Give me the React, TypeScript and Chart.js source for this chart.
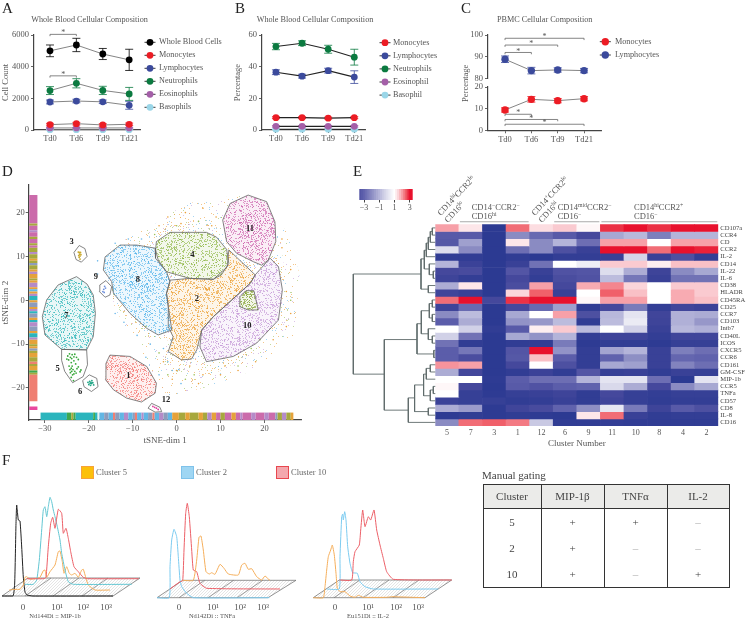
import { useEffect, useRef } from 'react';
import { Chart, registerables } from 'chart.js';

Chart.register(...registerables);

const SERIF = '"Liberation Serif"';
const INK = '#555';

// ---- Panels A, B, C ----
const timeLabels = ['Td0', 'Td6', 'Td9', 'Td21'];
const seriesColors: Record<string, string> = {
  'Whole Blood Cells': '#000000', Monocytes: '#ec1c24', Lymphocytes: '#3b4a9c', Neutrophils: '#0b7a40',
  Neutrophil: '#0b7a40', Eosinophils: '#a45fa8', Eosinophil: '#a45fa8', Basophils: '#9ad6e8', Basophil: '#9ad6e8',
};
const aNames = ['Whole Blood Cells', 'Monocytes', 'Lymphocytes', 'Neutrophils', 'Eosinophils', 'Basophils'];
const aValues = [[5000, 5370, 4800, 4430], [340, 400, 320, 360], [1770, 1830, 1780, 1560], [2490, 2950, 2500, 2280], [130, 130, 130, 130], [20, 20, 20, 20]];
const aErrors = [[370, 420, 350, 670], [80, 80, 80, 80], [120, 110, 110, 250], [250, 290, 260, 410], [30, 30, 30, 30], [15, 15, 15, 15]];
const aBrackets = [{ from: 0, to: 1, y: 6040 }, { from: 0, to: 1, y: 3420 }];
const bNames = ['Monocytes', 'Lymphocytes', 'Neutrophils', 'Eosinophil', 'Basophil'];
const bValues = [[7.8, 7.8, 7.5, 7.8], [36.5, 34, 37.5, 33.4], [52.7, 54.8, 51, 46], [2.3, 2.3, 2.3, 2.3], [0.5, 0.5, 0.5, 0.5]];
const bErrors = [[0.6, 0.6, 0.6, 0.6], [1.5, 1.2, 1.5, 4], [2, 1.5, 2.5, 5], [0.5, 0.5, 0.5, 0.5], [0.2, 0.2, 0.2, 0.2]];
const cLymph = [88.9, 83.7, 84, 83.7];
const cLymphErr = [1.5, 1.5, 1, 1];
const cMono = [9.4, 14.3, 13.7, 14.6];
const cMonoErr = [1, 1.3, 1, 1];
const cTopBrackets = [{ from: 0, to: 3, y: 98.5 }, { from: 0, to: 2, y: 95.4 }, { from: 0, to: 1, y: 92 }];
const cLowBrackets = [{ from: 0, to: 1, y: 7.4 }, { from: 0, to: 2, y: 5 }, { from: 0, to: 3, y: 2.8 }];

// ---- Panel D ----
const dTicksX = [-30, -20, -10, 0, 10, 20];
const dTicksY = [-20, -10, 0, 10, 20];
const sparseClusterIds = ['3', '9', '12', '6', '5'];
const clusterOutlines: { id: string; color: string; label: number[]; pts: number[][] }[] = [
  { id: '10', color: '#c08fd4', label: [16.1, -5.7], pts: [[17.9, 5.8], [21.3, 9.6], [23.2, 7.7], [24.1, 2.4], [23.2, -4.5], [18.2, -9.8], [12.9, -12.8], [6.8, -14], [5.3, -10.6], [5.7, -6.8], [8.4, -3.7], [16.8, 3.9]] },
  { id: '2', color: '#eb9a26', label: [4.6, 0.4], pts: [[-1.5, 4.6], [3, 5], [8.4, 4.8], [11.5, 7.6], [11.9, 11.5], [17.9, 5.8], [16.8, 3.9], [8.4, -3.7], [5.7, -6.8], [4.6, -11.3], [3.4, -13.4], [1.1, -13.6], [-1.9, -11.7], [-0.8, -8.3], [-1.9, -6], [-1.9, -1.4], [-2.3, 1.6]] },
  { id: '8', color: '#4db0ea', label: [-8.8, 4.6], pts: [[-12.9, 12.6], [-9.1, 12.6], [-4.9, 11.9], [-4.8, 9.6], [-2.3, 6.5], [-1.5, 4.3], [-2.3, 1.6], [-1.9, -1.4], [-1.1, -6.8], [-4.2, -7.9], [-6.8, -6.4], [-10.6, -3], [-14.4, 1.6], [-14.8, 4.3], [-16.7, 6.9], [-16.3, 9.9]] },
  { id: '4', color: '#86b036', label: [3.6, 10.4], pts: [[-1.5, 15.5], [6.8, 15.5], [9.1, 14.4], [11.4, 11.6], [11.9, 8.4], [10.2, 5.8], [8.4, 4.8], [3, 5], [-2.3, 6.5], [-4.2, 9.2], [-4.8, 11.5], [-4.6, 13.4]] },
  { id: '11', color: '#ca58a8', label: [16.7, 16.3], pts: [[16.3, 24], [20.5, 22.5], [22.4, 17.9], [22.6, 13.4], [20.9, 9.2], [19.4, 8], [17.5, 8.8], [13.7, 10.7], [11.4, 13.4], [10.5, 18.3], [12.2, 22.1]] },
  { id: '', color: '#7f9f2a', label: [], pts: [[15.8, 2.2], [17.6, 2.2], [18.6, -2.2], [16.3, -2.2], [14.3, -1.4], [14.4, 0.8]] },
  { id: '7', color: '#25b2b5', label: [-25.1, -3.6], pts: [[-22.8, 5.4], [-20.4, 3.7], [-19, 1.2], [-18.5, -3], [-19, -8.3], [-20.5, -11.3], [-26.2, -11.2], [-30, -7.9], [-30.6, -3.7], [-29.6, 0.1], [-27, 3.5]] },
  { id: '5', color: '#38a83a', label: [-27.1, -15.6], pts: [[-26.2, -11.2], [-20.5, -11.3], [-20.3, -14.7], [-21.3, -17.4], [-23.7, -18.8], [-25.5, -16.2], [-26.2, -13.7]] },
  { id: '6', color: '#1fa585', label: [-22, -20.8], pts: [[-19.9, -17], [-18.2, -17.8], [-17.9, -19.7], [-19.4, -20.8], [-21.1, -19.7], [-21.4, -18.3]] },
  { id: '1', color: '#f26a66', label: [-11, -17.2], pts: [[-15.2, -12.5], [-10.6, -12.8], [-6.8, -15.1], [-4.6, -18.9], [-4.9, -21.2], [-8, -23.2], [-11.4, -22.3], [-14.4, -20.4], [-16.2, -18.1], [-16.1, -14.4]] },
  { id: '3', color: '#c9a92c', label: [-23.9, 13.3], pts: [[-22.2, 12.5], [-20.9, 11.8], [-20.4, 10], [-21.7, 8.7], [-22.9, 9.3], [-23.4, 10.9]] },
  { id: '9', color: '#6e8fdc', label: [-18.4, 5.3], pts: [[-16.1, 4.5], [-14.8, 3.1], [-15.2, 1.2], [-16.3, 0.7], [-17.6, 2], [-17.5, 3.5]] },
  { id: '12', color: '#e0409f', label: [-2.4, -22.7], pts: [[-5.7, -23.5], [-3.8, -24.4], [-3.4, -25.4], [-4.9, -25.5], [-6.5, -24.6]] },
];
const denseCores: { color: string; pts: number[][] }[] = [
  { color: '#3aa6e6', pts: [[-15, 6.5], [-9, 5.5], [-6, 3], [-9, 3], [-14, 4]] },
  { color: '#1fa8ac', pts: [[-24.5, 4], [-21.5, 4], [-21, 1.5], [-24, 1.5]] },
  { color: '#c44ba0', pts: [[15, 20], [20, 19], [21, 14], [17, 13], [14, 16]] },
  { color: '#ee5a58', pts: [[-14, -14.5], [-10, -15], [-7, -19], [-9, -22], [-13, -18]] },
];
// core marks of the tiny clusters
const tinyMarks: { color: string; pts: number[][] }[] = [
  { color: '#c9a92c', pts: [[-22.4, 11], [-22.1, 10.5], [-22.2, 9.8], [-21.9, 10.9], [-22, 9.4], [-22.3, 10.2], [-21.8, 10.4], [-22.2, 10.9], [-22, 10.1]] },
  { color: '#6e8fdc', pts: [[-16.4, 3.2], [-16.6, 2.5], [-16.2, 2.8], [-16.8, 2], [-16.5, 1.8]] },
  { color: '#e0409f', pts: [[-5.4, -24.2], [-5, -24.4], [-4.6, -24.6], [-4.2, -24.9]] },
  { color: '#1fa585', pts: [[-19.8, -18.5], [-19.4, -19], [-19.6, -19.4], [-19.1, -18.8], [-20, -19.2], [-19.3, -18.3], [-19.7, -18.9], [-20.2, -18.7], [-18.9, -19.3], [-19.5, -18.7]] },
  { color: '#38a83a', pts: [[-24.8, -12.7], [-24.2, -13], [-23.8, -12.4], [-23.4, -12.9], [-24.5, -15], [-24, -15.5], [-23.6, -15.8], [-23.2, -16.2], [-22.7, -15.6], [-24.2, -16.5], [-23.7, -17], [-22, -16.3], [-23, -14.5], [-24, -14.2], [-22.4, -13.5], [-24.4, -12.2], [-23.9, -16.2], [-23.4, -13.8], [-25, -13.4], [-24.6, -13.6], [-23.9, -13.3], [-24.3, -15.8], [-23.8, -15], [-23.4, -16.8], [-22.9, -16.6], [-22.4, -15.2], [-21.8, -15.9], [-23.2, -12.3], [-22.8, -13], [-24, -17.6], [-23.5, -18.3]] },
];
const haloRegion = [[-10, 14], [2, 22], [14, 24], [25, 16], [28, 6], [27, -8], [20, -15], [8, -19.5], [-2, -22], [-7, -14], [-14, -2], [-17, 10]];
const innerHalo = [[-6, 17], [8, 18.5], [12, 12], [24, 11], [26, -4], [18, -12], [8, -17], [-3, -16], [-2, -9], [-6, -9], [-12, -4], [-16, 3], [-15, 12]];
const sparseOrange = [[-2, 19], [2, 20], [6, 21], [9, 19], [8, 17], [-4, 17], [1, 17.5], [24, 12], [26, 7], [25, 2], [26, -3], [-3, -14], [6, -17], [10, -17], [14, -16], [18, -14], [22, -9], [25, -6], [3, -15], [0, -16], [-1, -18], [5, -19], [11, -15], [24, 14]];
const sparseBlue = [[-14, 13], [-11, 14], [-8, 14], [-18, 9], [-18, 6], [-14, -3], [-12, -5], [-9, -8], [-6, -10], [-3, -11], [-1, -9], [0, -16], [0.5, -15.8], [-1, -16], [-4, -17], [1, -19], [-7, -13], [-2, -14]];
const sparseGreen = [[-4, -12], [2, -18], [4, -17], [14, -15], [17, -11], [19, -9], [-7, -6], [-5, 15], [0, 17], [5, 18], [26, 0], [-2, -17]];
const rugXStops = [-31, -25, -24, -23.5, -23, -19, -18.6, -18, -17.6, -16.5, -15.5, -14.5, -14, -13, -12, -11, -10, -9.5, -9, -8, -7.5, -6.5, -5.5, -5, -4, -3, -2, -1, 0.5, 2, 3, 5, 6, 7, 8, 9, 10, 11, 12.5, 13.5, 14.5, 15, 17, 18, 20, 21, 22.5, 23, 24, 25, 26, 26.6];
const rugXColors = 'T G L G T G T W B K B S K B P B K S B P B K S B P K B O L O L O L P O M L M O M P M P M P M K L P L O O'.split(' ');
const rugYStops = [24, 17.5, 17, 16, 15.5, 14.5, 14, 13, 12.5, 12, 11, 10.5, 9.5, 9, 8.5, 8, 7, 6.5, 6, 5, 4.5, 4, 3, 2.5, 2, 1.5, 1, 0, -0.5, -1.5, -2, -2.5, -3, -4, -4.5, -5, -6, -7, -7.5, -8.5, -9, -10, -10.5, -11, -11.5, -12, -13, -14, -14.5, -15, -16, -16.5, -17, -23, -24.2, -25];
const rugYColors = 'M L M P M L M L M L P L O L K L O P O L O P O B O P T O K O P T K O T P K O T P O L O K L O L S L O G L S N H H'.split(' ');
const rugPalette: Record<string, string> = { T: '#2bb5bd', G: '#3fa84e', B: '#62b6e4', S: '#ef7f72', P: '#b48bc8', O: '#e5a23a', L: '#a7a83e', M: '#cb6bab', K: '#8d9cbc', W: '#e4f2f2', N: 'rgba(0,0,0,0)', H: '#e9489f' };

// ---- Panel E ----
const heatColumns = ['5', '7', '3', '1', '12', '6', '9', '11', '10', '8', '4', '2'];
const heatRows = ['CD107a', 'CCR4', 'CD', 'CCR2', 'IL-2', 'CD14', 'IL-22', 'IL-6', 'CD38', 'HLADR', 'CD45RA', 'CD25', 'CCR7', 'CD103', 'Intb7', 'CD40L', 'ICOS', 'CXCR5', 'CCR6', 'CD161', 'GM-CSF', 'MIP-1b', 'CCR5', 'TNFa', 'CD57', 'CD8', 'IL-8', 'CD16'];
const heatValues = [
  [2.0, 1.3, -5, 2.4, 1.4, 1.6, 1.1, 2.8, 3, 2.8, 3, 3],
  [-3.3, -3.3, -5, -2, -2.8, -3.3, -4, -1.3, -0.9, -2.3, -1, -1],
  [-3.4, -1.5, -5, 1.3, -2, -1, -2.7, 2, 2, 1, 2, 2],
  [0, -2, -5, -2.7, -2, -3.7, -4.5, 3, 3, 2.4, 3, 2.9],
  [-4.8, -4.8, -5, -4.8, -5, -4.7, -4.7, -4.5, -0.2, -4.5, -3.7, -4.7],
  [-1, -4.4, -5, -4.5, -2.6, 1, 0.5, 1.6, 1.6, 1.2, 1.7, 1.7],
  [-4, -3.9, -5, -3.5, -4.5, -3.6, -3.5, 0, -1.2, -4.3, -2, -1.3],
  [-4.3, -4.7, -5, -4, -4.7, -3.8, -3.6, -0.8, -2.5, -4.5, -2.6, -2.6],
  [-1.2, 1.3, -5, -3.8, 2, -4, 1.9, 2.2, 1.5, 1, 1.6, 1.6],
  [-4.2, -4.5, -5, 1.5, 2.5, -4.5, 1, 2.5, 1.7, 1, 1.9, 1.6],
  [2.4, 3, -4, 2.8, 3, 3, 1.1, 2, 2, 1, 1.9, 1.7],
  [-4.3, -2.8, -5, -4, -2.8, -1.5, -4.8, -4, -2.4, -4.7, -4.2, -4.4],
  [-2, -0.8, -5, -1.3, 1, 2, -3.7, -0.9, 0.2, -4.2, -1.1, -1.2],
  [-3.2, -1.2, -5, -1.8, -1.7, -0.8, -4.8, -0.8, 0.4, -4.3, -1.1, -1.7],
  [1, -0.3, -4.8, -3.3, 1.2, 1.6, -0.8, 1, -0.3, -4.5, -0.9, -1.1],
  [-0.3, -2.6, -5, -1.3, -1.8, -1, -4.7, -4.3, -4.3, -4.7, -4.2, -4.2],
  [-2.6, -4.8, -5, -4.8, -4.8, -2.4, -4.9, -4.8, -4.8, -4.9, -4.6, -4.6],
  [-3.2, -2.5, -5, -3.5, 3, -1.8, -4.7, -1.4, -1, -4.5, -2.3, -2.7],
  [-3.2, -3.8, -5, -3.4, 1.7, -3.2, -4.7, -3, -1.9, -4.5, -2.9, -3],
  [2.1, 2, -5, -4, 1, -3.7, -4.7, -1.3, -1.5, -4.5, -2.2, -2.7],
  [-1.2, -4.1, -5, -4.8, -4.4, -4.8, -3.5, -4.6, -4.5, -4.8, -4.5, -4.6],
  [1, 1, -4.9, -3.2, -2.7, -2.7, -1, 0.2, 0.2, -2.7, -5, 0.2],
  [1.1, -4, -5, -3.3, -3.6, -3.2, -3, -0.1, -1.2, -4, -2, -1.3],
  [1, -4.6, -4.9, -4.6, -4.5, -4.3, -4.8, -4, -4.6, -4.7, -4.6, -4.6],
  [-4.4, -4.6, -4.6, -4.8, -4.7, -4.5, -4.8, -4.2, -4.6, -4.8, -4.7, -4.7],
  [-1.2, -1.6, -4.9, -4.2, -3.9, -3, -1.9, 0.3, -2.4, -4.3, -3.3, -3.7],
  [-4.9, -4.8, -4.9, -4.8, -4.9, -5, 1.3, 2.4, -4.5, -4.8, -4.7, -4.7],
  [-2, 2.4, 2.5, 2.3, -0.5, -4.8, -4.8, -4.7, -4.8, -4.8, -4.8, -4.8],
];
const heatStops: [number, number[]][] = [
  [-5, [44, 58, 146]], [-4, [69, 72, 156]], [-3, [96, 98, 173]], [-2, [138, 139, 194]], [-1, [180, 180, 217]], [0, [221, 221, 237]],
  [1, [255, 255, 255]], [1.5, [251, 213, 218]], [2, [247, 160, 168]], [2.5, [240, 96, 106]], [3, [232, 17, 45]],
];
const colorbarSteps = [-3.5, -3.25, -3, -2.75, -2.5, -2.25, -2, -1.75, -1.5, -1.25, -1, -0.75, -0.5, -0.25, 0, 0.25, 0.5, 0.75, 1, 1.25, 1.5, 1.75, 2, 2.25, 2.5, 2.75, 3, 3.25];
const colorbarTicks = [-3, -1, 1, 3];
const groupSpans = [[1, 3], [5, 6], [7, 11]];
// [height, row1, childHeight1, row2, childHeight2]
const dendroLinks = [
  [3, 0, 0, 1, 0], [5, 0.5, 3, 2, 0], [7, 1.3, 5, 3, 0], [9, 2.1, 7, 4, 0], [2, 6, 0, 7, 0], [6, 5, 0, 6.5, 2], [11, 3.1, 9, 5.7, 6], [7, 8, 0, 9, 0], [14.3, 4.3, 11, 8.5, 7],
  [3, 10, 0, 11, 0], [3, 12, 0, 13, 0], [6, 10.5, 3, 12.5, 3], [3, 15, 0, 16, 0], [7, 14, 0, 15.5, 3], [14, 11.5, 6, 14.7, 7], [1.5, 17, 0, 18, 0], [18.3, 13.3, 14, 17.5, 1.5],
  [5, 19, 0, 20, 0], [9, 19.5, 5, 21, 0], [2, 22, 0, 23, 0], [5, 22.5, 2, 24, 0], [11.7, 20.3, 9, 23.3, 5], [7, 25, 0, 26, 0], [20.7, 21.8, 11.7, 25.5, 7], [27, 23.6, 20.7, 27, 0],
  [51, 15.5, 18.3, 25.3, 27], [82, 6.4, 14.3, 20.3, 51],
];

// ---- Panel F ----
const histTickLabels = ['0', '10¹', '10²', '10³'];
const C_ORANGE = '#f5ae5a';
const C_TEAL = '#62c6d2';
const C_BLUE = '#7ccbf0';
const C_RED = '#ec5f67';
const mipBlack = [[2, 0], [13, 0], [14.7, 13], [16, 72.7], [16.7, 91], [18.3, 76], [20, 75], [21.7, 49], [23.3, 19], [25, 4], [27, 1], [33, 0], [113, 0]];
const mipOrange = [[9.3, 6], [15, 6.7], [20, 6.7], [23.3, 11], [25, 18.7], [26.7, 19.3], [30, 16.7], [36.7, 17.7], [40, 18.7], [43.3, 25.3], [45, 26], [46.7, 18.7], [50, 24.3], [55, 31], [58.3, 44.3], [60, 45], [62.3, 34.3], [64, 22.7], [66.7, 29.3], [69.3, 22.7], [71.7, 21], [75, 22.7], [78.3, 18.7], [81.7, 26], [83.3, 26.7], [86, 17.7], [88.3, 11], [95, 6], [110, 6], [122, 6]];
const mipTeal = [[25, 11.7], [33.3, 11.7], [36.7, 16], [39.3, 36], [41.7, 66], [43.3, 86], [45, 89.3], [46.7, 79.3], [48.3, 89.3], [50, 98.7], [51.7, 94.3], [53.3, 86], [55, 79.3], [57.3, 69.3], [60, 56], [61.7, 42.7], [65, 26], [68.3, 14.3], [73.3, 11.7], [131.7, 11.7]];
const mipRed = [[26.7, 17.3], [44, 17.3], [46, 18.7], [48.3, 49.3], [50.7, 72.7], [52.7, 78.7], [55, 67.7], [58.3, 86.7], [61.7, 82.7], [63.3, 62.7], [66, 67.7], [68.3, 57.7], [70.7, 44.3], [74, 29.3], [78.3, 24.3], [83.3, 18.7], [87.3, 17.3], [138.7, 17.3]];
const tnfBlue = [[0, -1.7], [12.3, -1.7], [13, 29.3], [14.7, 56], [17, 66.7], [19.7, 59.3], [21.3, 39.3], [23, 16], [24.7, 9.3], [29.7, 2.7], [36.3, -1.7], [112.3, -1.7]];
const tnfRed = [[13, 7], [23, 14.3], [25.7, 15.3], [27, 46], [28.7, 82.7], [30.3, 92.7], [32.3, 79.3], [34.7, 46], [36.3, 26], [39.7, 24.3], [43, 12.7], [49.7, 7.7], [123, 7]];
const tnfOrange = [[25.7, 15.7], [36.3, 15.7], [39.7, 36], [42, 58.7], [44, 60], [46.3, 46], [49, 24.3], [52.3, 22], [54.7, 23.3], [58, 21.7], [63, 31.7], [67, 27.7], [71.3, 22], [81.3, 21], [84.7, 31], [88, 32.7], [91.3, 26.7], [94.7, 27.3], [99.7, 19.3], [104.7, 16], [108, 20], [113, 15.7], [139, 15.7]];
const il2Orange = [[0.3, -1.7], [10.3, -1.7], [12, 9.3], [13.7, 26], [15.3, 39.3], [17.7, 46], [19.3, 51], [21.3, 41], [23, 22.7], [24.3, 7.7], [27, 4.3], [32, 4.3], [37, 0], [42, -1.3], [45.3, 0.7], [50.3, -1.3], [73.7, -1.3], [78.7, -0.7], [112, -1.7]];
const il2Blue = [[13.7, 7], [26.3, 7], [27, 39.3], [28.7, 79.3], [29.7, 82], [30.3, 76], [31.7, 84.3], [33, 76], [34.7, 49.3], [37, 32.7], [39.7, 23.3], [44.3, 22.7], [47, 14.3], [52, 9.3], [60.3, 7], [125.3, 7]];
const il2Red = [[26.3, 16], [38.7, 16], [40.3, 34.3], [42, 44.3], [46.3, 51], [47.7, 66], [49.7, 86], [52, 69.3], [55.3, 79.3], [57.7, 76], [61, 86], [63.7, 66], [67, 51], [70.3, 37.7], [73.7, 24.3], [80.3, 16.7], [138.7, 16]];
const histPanels = [
  { left: 0, axis: 'Nd144Di :: MIP-1b', ticks: [23, 57, 83, 106], floor: [[2, 0], [113, 0], [140, 18], [28, 18]], dividers: [25, 53, 82], curves: [{ d: mipRed, c: C_RED }, { d: mipTeal, c: C_TEAL }, { d: mipOrange, c: C_ORANGE }, { d: mipBlack, c: '#222' }] },
  { left: 157, axis: 'Nd142Di :: TNFa', ticks: [22, 56, 83, 106], floor: [[0, -1.7], [111, -1.7], [139, 15.7], [25.7, 15.7]], dividers: [22, 51, 80], curves: [{ d: tnfOrange, c: C_ORANGE }, { d: tnfRed, c: C_RED }, { d: tnfBlue, c: C_BLUE }] },
  { left: 313, axis: 'Eu151Di :: IL-2', ticks: [22, 55, 83, 105], floor: [[0.3, -1.7], [112, -1.7], [138.7, 16], [26.3, 16]], dividers: [21, 50, 80], curves: [{ d: il2Red, c: C_RED }, { d: il2Blue, c: C_BLUE }, { d: il2Orange, c: C_ORANGE }] },
];
const clusterKey = [
  { name: 'Cluster 5', x: 81, fill: '#fcc00a', edge: '#f7a23a' },
  { name: 'Cluster 2', x: 181, fill: '#9fd6f3', edge: '#7fc2ea' },
  { name: 'Cluster 10', x: 276, fill: '#f4a7ad', edge: '#e8474f' },
];
const gatingHeader = ['Cluster', 'MIP-1β', 'TNFα', 'IL-2'];
const gatingRows = [['5', '+', '+', '–'], ['2', '+', '–', '–'], ['10', '+', '–', '+']];
const panelLetters = [['A', 2, 0], ['B', 235, 0], ['C', 461, 0], ['D', 2, 163], ['E', 353, 163], ['F', 2, 452]];

// ---- helpers ----
type Rect = { x: number; y: number; w: number; h: number };
type Area = { l: number; t: number; r: number; b: number };

function heatColor(v: number) {
  const z = Math.max(-5, Math.min(3, v));
  for (let i = 1; i < heatStops.length; i++) {
    if (z <= heatStops[i][0]) {
      const [a, ca] = heatStops[i - 1];
      const [b, cb] = heatStops[i];
      const t = (z - a) / (b - a);
      return `rgb(${ca.map((c, k) => Math.round(c + (cb[k] - c) * t)).join(',')})`;
    }
  }
  return '#e8112d';
}
// A repeating dot texture, used only as a fill style for the regions of the t-SNE map.
function speckle(colors: string[], count: number, alpha: number, shift = 0) {
  const size = 128;
  const c = document.createElement('canvas');
  c.width = c.height = size;
  const g = c.getContext('2d')!;
  g.globalAlpha = alpha;
  const frac = (v: number) => v - Math.floor(v);
  for (let n = 1; n <= count; n++) {
    const px = frac(Math.sin((n + shift) * 12.9898) * 43758.5453) * size;
    const py = frac(Math.sin((n + shift) * 78.233) * 24634.6345) * size;
    g.fillStyle = colors[n % colors.length];
    g.fillRect(px | 0, py | 0, 1, 1);
  }
  return g.createPattern(c, 'repeat');
}
function hatch() {
  const c = document.createElement('canvas');
  c.width = c.height = 3;
  const g = c.getContext('2d')!;
  g.fillStyle = '#cfcfcf';
  g.fillRect(0, 2, 1, 1);
  g.fillRect(1, 1, 1, 1);
  g.fillRect(2, 0, 1, 1);
  return g.createPattern(c, 'repeat');
}
const font = (size: number, weight = '') => `${weight} ${size}px ${SERIF}`.trim();
function runs(ctx: any, x: number, y: number, parts: (string | [string])[], size: number, angle = 0) {
  ctx.save();
  ctx.translate(x, y);
  ctx.rotate((angle * Math.PI) / 180);
  ctx.fillStyle = INK;
  ctx.textAlign = 'left';
  ctx.textBaseline = 'alphabetic';
  let cx = 0;
  for (const p of parts) {
    const sup = Array.isArray(p);
    const t = sup ? (p as [string])[0] : (p as string);
    ctx.font = font(sup ? size * 0.68 : size);
    ctx.fillText(t, cx, sup ? -size * 0.38 : 0);
    cx += ctx.measureText(t).width;
  }
  ctx.restore();
}
function label(ctx: any, t: string, x: number, y: number, size: number, opts: any = {}) {
  ctx.save();
  ctx.translate(x, y);
  if (opts.rot) ctx.rotate((opts.rot * Math.PI) / 180);
  ctx.font = font(size, opts.weight || '');
  ctx.fillStyle = opts.color || INK;
  ctx.textAlign = opts.align || 'center';
  ctx.textBaseline = 'middle';
  ctx.fillText(t, 0, 0);
  ctx.restore();
}
function frame(rect: Rect, area: Area) {
  return {
    toLeft: (s: any) => { s.width = area.l - rect.x; },
    toRight: (s: any) => { s.width = rect.x + rect.w - area.r; },
    toBottom: (s: any) => { s.height = rect.y + rect.h - area.b; },
  };
}
const axisLook = (tick = 3) => ({
  grid: { display: true, drawOnChartArea: false, tickLength: tick, color: INK, lineWidth: 0.9 },
  border: { display: true, color: '#444', width: 1.2 },
});
const bareAxis = { grid: { display: false, drawTicks: false, tickLength: 0 }, border: { display: false } };
const noLegend = { legend: { display: false }, tooltip: { enabled: false } };

function timeChart(p: any) {
  const { rect, area, xMin, xMax, names, values, errors, yMin, yMax, step, lineColor, lineWidth } = p;
  const f = frame(rect, area);
  const R = p.radius || 3.4;
  const extras = {
    id: 'timeExtras',
    beforeDatasetsDraw(chart: any) {
      const { ctx, scales } = chart;
      ctx.save();
      ctx.lineWidth = 0.8;
      names.forEach((n: string, i: number) => {
        ctx.strokeStyle = seriesColors[n];
        values[i].forEach((v: number, k: number) => {
          const px = scales.x.getPixelForValue(k);
          const hi = scales.y.getPixelForValue(v + errors[i][k]);
          const lo = scales.y.getPixelForValue(v - errors[i][k]);
          ctx.beginPath();
          ctx.moveTo(px, hi); ctx.lineTo(px, lo);
          ctx.moveTo(px - 4, hi); ctx.lineTo(px + 4, hi);
          ctx.moveTo(px - 4, lo); ctx.lineTo(px + 4, lo);
          ctx.stroke();
        });
      });
      ctx.restore();
    },
    afterDatasetsDraw(chart: any) {
      const { ctx, scales } = chart;
      ctx.save();
      ctx.strokeStyle = '#666';
      ctx.lineWidth = 0.8;
      (p.brackets || []).forEach((b: any) => {
        const x1 = scales.x.getPixelForValue(b.from);
        const x2 = scales.x.getPixelForValue(b.to);
        const y = scales.y.getPixelForValue(b.y);
        ctx.beginPath();
        ctx.moveTo(x1, y + 1.8); ctx.lineTo(x1, y); ctx.lineTo(x2, y); ctx.lineTo(x2, y + 1.8);
        ctx.stroke();
        label(ctx, '*', (x1 + x2) / 2, y - 1, 8, { color: '#555' });
      });
      ctx.restore();
      const lg = p.legend;
      if (lg) {
        lg.entries.forEach((e: any) => {
          const c = seriesColors[e.name];
          ctx.save();
          ctx.strokeStyle = '#222';
          ctx.lineWidth = 0.9;
          ctx.beginPath(); ctx.moveTo(lg.x - 5.5, e.y); ctx.lineTo(lg.x + 5.5, e.y); ctx.stroke();
          ctx.fillStyle = c;
          ctx.beginPath(); ctx.arc(lg.x, e.y, R, 0, Math.PI * 2); ctx.fill();
          ctx.restore();
          label(ctx, e.name, lg.x + lg.gap, e.y, 8.2, { align: 'left' });
        });
      }
      (p.texts || []).forEach((t: any) => label(ctx, t.t, t.x - rect.x, t.y - rect.y, t.size || 8.2, t));
    },
  };
  const xScale: any = {
    type: 'linear', min: xMin, max: xMax, display: !p.hideX,
    afterBuildTicks: (s: any) => { s.ticks = timeLabels.map((_, i) => ({ value: i })); },
    ticks: { callback: (v: number) => timeLabels[v], color: INK, font: { family: SERIF, size: 8.5 }, padding: 1, autoSkip: false, maxRotation: 0 },
    ...axisLook(3),
  };
  if (!p.hideX) xScale.afterFit = f.toBottom;
  return {
    type: 'line',
    data: {
      datasets: names.map((n: string, i: number) => ({
        label: n,
        data: values[i].map((y: number, x: number) => ({ x, y })),
        borderColor: lineColor,
        borderWidth: lineWidth,
        backgroundColor: seriesColors[n],
        pointBackgroundColor: seriesColors[n],
        pointBorderColor: seriesColors[n],
        pointBorderWidth: 0,
        pointRadius: R,
        tension: 0,
        clip: false,
      })),
    },
    options: {
      animation: false,
      responsive: false,
      devicePixelRatio: 1,
      layout: {
        autoPadding: false,
        padding: { top: area.t - rect.y, right: rect.x + rect.w - area.r, left: 0, bottom: p.hideX ? rect.y + rect.h - area.b : 0 },
      },
      plugins: noLegend,
      scales: {
        x: xScale,
        y: {
          min: yMin, max: yMax, afterFit: f.toLeft,
          ticks: { stepSize: step, callback: (v: number) => String(v), color: INK, font: { family: SERIF, size: 8.5 }, padding: 2 },
          title: p.yTitle ? { display: true, text: p.yTitle, color: INK, font: { family: SERIF, size: 8.5 }, padding: { top: p.yTitlePad ?? 1, bottom: 0 } } : { display: false },
          ...axisLook(3),
        },
      },
    },
    plugins: [extras],
  };
}

function tsneChart(rect: Rect, area: Area) {
  const f = frame(rect, area);
  const halo = speckle(['#eba03a', '#6bb8ea', '#c59bd8', '#9cc05a', '#eba03a', '#eba03a'], 650, 0.6);
  const halo2 = speckle(['#eba03a', '#6bb8ea', '#c59bd8', '#9cc05a', '#eba03a'], 1000, 0.6, 9000);
  const fills = clusterOutlines.map((c, i) => speckle([c.color], c.id === '' ? 9000 : 4800, 0.6, i * 5003));
  const cores = denseCores.map((c, i) => speckle([c.color], 1500, 0.5, 70000 + i * 4001));
  const poly = (ctx: any, scales: any, pts: number[][]) => {
    ctx.beginPath();
    pts.forEach(([x, y], i) => {
      const px = scales.x.getPixelForValue(x);
      const py = scales.y.getPixelForValue(y);
      if (i) ctx.lineTo(px, py); else ctx.moveTo(px, py);
    });
    ctx.closePath();
  };
  const closed = (pts: number[][]) => [...pts, pts[0]].map(([x, y]) => ({ x, y }));
  const sample = (pts: number[][], c: string, r = 0.8) => ({
    data: pts.map(([x, y]) => ({ x, y })), showLine: false, pointRadius: r, pointBorderWidth: 0, pointBackgroundColor: c, clip: false,
  });
  const datasets: any[] = [
    ...clusterOutlines.map((c) => ({
      label: c.id ? `Cluster ${c.id}` : 'Cluster 10 core', data: closed(c.pts), showLine: true, borderColor: '#666', borderWidth: 0.8, pointRadius: 0, tension: 0, clip: false,
    })),
    ...tinyMarks.map((m) => sample(m.pts, m.color, 0.9)),
    sample(sparseOrange, '#eba03a'), sample(sparseBlue, '#6bb8ea'), sample(sparseGreen, '#9cc05a'),
    {
      label: 'rug x', data: rugXStops.map((x) => ({ x, y: -26.45 })), showLine: true, pointRadius: 0, borderWidth: 7.4, borderCapStyle: 'butt', clip: false, tension: 0,
      segment: { borderColor: (ctx: any) => rugPalette[rugXColors[ctx.p0DataIndex]] },
    },
    {
      label: 'rug y', data: rugYStops.map((y) => ({ x: -32.65, y })), showLine: true, pointRadius: 0, borderWidth: 8.2, borderCapStyle: 'butt', clip: false, tension: 0,
      segment: { borderColor: (ctx: any) => rugPalette[rugYColors[ctx.p0DataIndex]] },
    },
  ];
  return {
    type: 'scatter',
    data: { datasets },
    options: {
      animation: false, responsive: false, devicePixelRatio: 1,
      layout: { autoPadding: false, padding: { top: area.t - rect.y, right: rect.x + rect.w - area.r, left: 0, bottom: 0 } },
      plugins: noLegend,
      scales: {
        x: {
          type: 'linear', min: -33.7, max: 28.5, afterFit: f.toBottom,
          afterBuildTicks: (s: any) => { s.ticks = dTicksX.map((value) => ({ value })); },
          ticks: { callback: (v: number) => String(v).replace('-', '−'), color: INK, font: { family: SERIF, size: 8.5 }, padding: 1, autoSkip: false, maxRotation: 0 },
          title: { display: true, text: 'tSNE-dim 1', color: INK, font: { family: SERIF, size: 9 }, padding: { top: 0, bottom: 4 } },
          ...axisLook(3),
        },
        y: {
          type: 'linear', min: -27.3, max: 26.3, afterFit: f.toLeft,
          afterBuildTicks: (s: any) => { s.ticks = dTicksY.map((value) => ({ value })); },
          ticks: { callback: (v: number) => String(v).replace('-', '−'), color: INK, font: { family: SERIF, size: 8.5 }, padding: 1, autoSkip: false },
          title: { display: true, text: 'tSNE-dim 2', color: INK, font: { family: SERIF, size: 9 }, padding: { top: 0, bottom: 0 } },
          ...axisLook(3),
        },
      },
    },
    plugins: [{
      id: 'tsneFill',
      beforeDatasetsDraw(chart: any) {
        const { ctx, scales } = chart;
        ctx.save();
        poly(ctx, scales, haloRegion);
        ctx.fillStyle = halo;
        ctx.fill();
        poly(ctx, scales, innerHalo);
        ctx.fillStyle = halo2;
        ctx.fill();
        clusterOutlines.forEach((c, i) => {
          poly(ctx, scales, c.pts);
          ctx.fillStyle = '#fff';
          ctx.fill();
          if (!sparseClusterIds.includes(c.id)) {
            ctx.globalAlpha = 0.1;
            ctx.fillStyle = c.color;
            ctx.fill();
            ctx.globalAlpha = 1;
            ctx.fillStyle = fills[i];
            ctx.fill();
          }
        });
        denseCores.forEach((c, i) => {
          poly(ctx, scales, c.pts);
          ctx.fillStyle = cores[i];
          ctx.fill();
        });
        ctx.restore();
      },
      afterDatasetsDraw(chart: any) {
        const { ctx, scales } = chart;
        clusterOutlines.forEach((c) => {
          if (c.id) label(ctx, c.id, scales.x.getPixelForValue(c.label[0]), scales.y.getPixelForValue(c.label[1]), 8.5, { weight: 'bold', color: '#222' });
        });
      },
    }],
  };
}

function heatChart(rect: Rect, area: Area) {
  const f = frame(rect, area);
  const X = (px: number) => px - rect.x;
  const Y = (py: number) => py - rect.y;
  return {
    type: 'bar',
    data: {
      labels: heatColumns,
      datasets: heatRows.map((r, i) => ({
        label: r,
        data: heatValues[i].map(() => 1),
        backgroundColor: heatValues[i].map(heatColor),
        borderWidth: 0,
        barPercentage: 1,
        categoryPercentage: 1,
      })),
    },
    options: {
      animation: false, responsive: false, devicePixelRatio: 1,
      layout: { autoPadding: false, padding: { top: area.t - rect.y, left: area.l - rect.x, right: 0, bottom: 0 } },
      plugins: noLegend,
      scales: {
        x: {
          stacked: true, afterFit: f.toBottom,
          ...bareAxis,
          ticks: { color: INK, font: { family: SERIF, size: 8 }, padding: 2, autoSkip: false, maxRotation: 0 },
          title: { display: true, text: 'Cluster Number', color: INK, font: { family: SERIF, size: 9 }, padding: { top: 0, bottom: 0.5 } },
        },
        y: {
          stacked: true, type: 'linear', min: 0, max: heatRows.length, reverse: true, position: 'right', afterFit: f.toRight,
          afterBuildTicks: (s: any) => { s.ticks = heatRows.map((_, i) => ({ value: i + 0.5 })); },
          ...bareAxis,
          ticks: { callback: (v: number) => heatRows[Math.floor(v)], color: '#444', font: { family: SERIF, size: 6.6 }, padding: 2, autoSkip: false },
        },
      },
    },
    plugins: [{
      id: 'heatHeader',
      afterDatasetsDraw(chart: any) {
        const { ctx, scales } = chart;
        const half = (scales.x.getPixelForValue(1) - scales.x.getPixelForValue(0)) / 2;
        ctx.save();
        ctx.strokeStyle = '#aaa';
        ctx.lineWidth = 1.1;
        groupSpans.forEach(([a, b]) => {
          ctx.beginPath();
          ctx.moveTo(scales.x.getPixelForValue(a) - half + 1, Y(221.7));
          ctx.lineTo(scales.x.getPixelForValue(b) + half - 1, Y(221.7));
          ctx.stroke();
        });
        ctx.restore();
        const s = 8.5;
        runs(ctx, X(441), Y(216), ['CD14', ['hi'], 'CCR2', ['lo']], s, -47);
        runs(ctx, X(448), Y(223), ['CD16', ['lo']], s, -47);
        runs(ctx, X(535), Y(216), ['CD14', ['+'], 'CCR2', ['lo']], s, -47);
        runs(ctx, X(542), Y(223), ['CD16', ['hi']], s, -47);
        runs(ctx, X(471.7), Y(210), ['CD14', ['−'], 'CCR2', ['−']], s);
        runs(ctx, X(471.7), Y(219), ['CD16', ['hi']], s);
        runs(ctx, X(557.7), Y(210), ['CD14', ['mid'], 'CCR2', ['−']], s);
        runs(ctx, X(557.7), Y(219), ['CD16', ['−']], s);
        runs(ctx, X(634), Y(210), ['CD14', ['hi'], 'CCR2', ['+']], s);
        runs(ctx, X(634), Y(219), ['CD16', ['−']], s);
      },
    }],
  };
}

function colorbarChart(rect: Rect, area: Area) {
  const f = frame(rect, area);
  return {
    type: 'bar',
    data: {
      labels: colorbarSteps.map(String),
      datasets: [{ data: colorbarSteps.map(() => 1), backgroundColor: colorbarSteps.map(heatColor), barPercentage: 1, categoryPercentage: 1, borderWidth: 0 }],
    },
    options: {
      animation: false, responsive: false, devicePixelRatio: 1,
      layout: { autoPadding: false, padding: { top: area.t - rect.y, left: area.l - rect.x, right: rect.x + rect.w - area.r, bottom: 0 } },
      plugins: noLegend,
      scales: {
        x: {
          afterFit: f.toBottom,
          border: { display: false },
          grid: {
            offset: false, drawOnChartArea: false, tickLength: 2.5,
            tickColor: (c: any) => (colorbarTicks.includes(colorbarSteps[c.index]) ? '#444' : 'rgba(0,0,0,0)'),
          },
          ticks: {
            callback: (_: any, i: number) => (colorbarTicks.includes(colorbarSteps[i]) ? String(colorbarSteps[i]).replace('-', '−') : ''),
            color: INK, font: { family: SERIF, size: 8 }, padding: 1, autoSkip: false, maxRotation: 0,
          },
        },
        y: { display: false, min: 0, max: 1 },
      },
    },
  };
}

function dendroChart(rect: Rect, area: Area) {
  return {
    type: 'scatter',
    data: {
      datasets: dendroLinks.map(([h, r1, h1, r2, h2]) => ({
        data: [{ x: h1, y: r1 }, { x: h, y: r1 }, { x: h, y: r2 }, { x: h2, y: r2 }],
        showLine: true, pointRadius: 0, borderColor: '#5f6b6b', borderWidth: 0.9, tension: 0, clip: false,
      })),
    },
    options: {
      animation: false, responsive: false, devicePixelRatio: 1,
      layout: { autoPadding: false, padding: { top: area.t - rect.y, left: area.l - rect.x, right: rect.x + rect.w - area.r, bottom: rect.y + rect.h - area.b } },
      plugins: noLegend,
      scales: {
        x: { type: 'linear', display: false, min: 0, max: 82.3, reverse: true },
        y: { type: 'linear', display: false, min: -0.5, max: 27.5, reverse: true },
      },
    },
  };
}

function histChart(p: any, floorFill: any, rect: Rect, area: Area) {
  const f = frame(rect, area);
  const [a, b, c, d] = p.floor;
  const dy = c[1] - b[1];
  const dx = d[0] - a[0];
  const datasets: any[] = [
    ...p.curves.map((cv: any, i: number) => ({
      label: `curve ${i}`,
      data: cv.d.map(([x, y]: number[]) => ({ x, y })), showLine: true, borderColor: cv.c, borderWidth: 1, pointRadius: 0, tension: 0.15, clip: false,
    })),
    ...p.dividers.map((x0: number) => ({
      data: [{ x: x0, y: a[1] }, { x: x0 + dx, y: a[1] + dy }], showLine: true, borderColor: '#777', borderWidth: 0.7, pointRadius: 0, clip: false,
    })),
    { data: [a, d, c, b].map(([x, y]: number[]) => ({ x, y })), showLine: true, borderColor: '#777', borderWidth: 0.8, pointRadius: 0, clip: false },
    { data: [a, b].map(([x, y]: number[]) => ({ x, y })), showLine: true, borderColor: '#888', borderWidth: 0.9, pointRadius: 0, clip: false },
  ];
  return {
    type: 'scatter',
    data: { datasets },
    options: {
      animation: false, responsive: false, devicePixelRatio: 1,
      layout: { autoPadding: false, padding: { top: area.t - rect.y, left: area.l - rect.x, right: rect.x + rect.w - area.r, bottom: 0 } },
      plugins: noLegend,
      scales: {
        x: {
          type: 'linear', min: 0, max: 110, afterFit: f.toBottom,
          afterBuildTicks: (s: any) => { s.ticks = p.ticks.map((value: number) => ({ value })); },
          ...bareAxis,
          ticks: { callback: (_: any, i: number) => histTickLabels[i], color: INK, font: { family: SERIF, size: 9 }, padding: 6, autoSkip: false, maxRotation: 0 },
          title: { display: true, text: p.axis, color: INK, font: { family: SERIF, size: 6.5 }, padding: { top: 0, bottom: 0 } },
        },
        y: { type: 'linear', display: false, min: 0, max: area.b - area.t },
      },
    },
    plugins: [{
      id: 'histFloor',
      beforeDatasetsDraw(chart: any) {
        const { ctx, scales } = chart;
        ctx.save();
        ctx.beginPath();
        p.floor.forEach(([x, y]: number[], i: number) => {
          const px = scales.x.getPixelForValue(x);
          const py = scales.y.getPixelForValue(y);
          if (i) ctx.lineTo(px, py); else ctx.moveTo(px, py);
        });
        ctx.closePath();
        ctx.fillStyle = floorFill;
        ctx.globalAlpha = 0.55;
        ctx.fill();
        ctx.restore();
      },
    }],
  };
}

export default function App() {
  const host = useRef<HTMLDivElement>(null);

  useEffect(() => {
    const charts: Chart[] = [];
    const canvases: HTMLCanvasElement[] = [];
    const add = (rect: Rect, cfg: any) => {
      const c = document.createElement('canvas');
      c.width = rect.w;
      c.height = rect.h;
      c.style.cssText = `position:absolute;left:${rect.x}px;top:${rect.y}px;width:${rect.w}px;height:${rect.h}px;display:block`;
      host.current!.appendChild(c);
      canvases.push(c);
      charts.push(new Chart(c, cfg));
    };

    // A
    const rA = { x: 0, y: 0, w: 230, h: 160 };
    add(rA, timeChart({
      rect: rA, area: { l: 34, t: 35, r: 140, b: 130 }, xMin: -0.606, xMax: 3.41,
      names: aNames, values: aValues, errors: aErrors, yMin: 0, yMax: 6000, step: 2000, lineColor: '#777', lineWidth: 0.9,
      yTitle: 'Cell Count', yTitlePad: 1, brackets: aBrackets,
      legend: { x: 150, gap: 9, entries: aNames.map((name, i) => ({ name, y: 42.3 + i * 13 })) },
      texts: [{ t: 'Whole Blood Cellular Composition', x: 89.5, y: 20 }],
    }));
    // B
    const rB = { x: 233, y: 0, w: 220, h: 160 };
    add(rB, timeChart({
      rect: rB, area: { l: 262, t: 35, r: 365, b: 130 }, xMin: -0.534, xMax: 3.41,
      names: bNames, values: bValues, errors: bErrors, yMin: 0, yMax: 60, step: 20, lineColor: '#222', lineWidth: 1.1,
      yTitle: 'Percentage', yTitlePad: 0,
      legend: { x: 152, gap: 8, entries: bNames.map((name, i) => ({ name, y: 42.7 + i * 13.1 })) },
      texts: [{ t: 'Whole Blood Cellular Composition', x: 315, y: 20 }],
    }));
    // C lower part
    const rC = { x: 462, y: 0, w: 284, h: 160 };
    add(rC, timeChart({
      rect: rC, area: { l: 488, t: 87, r: 601.7, b: 130.3 }, xMin: -0.646, xMax: 3.67, radius: 3.7,
      names: ['Monocytes'], values: [cMono], errors: [cMonoErr], yMin: 0, yMax: 20, step: 5, lineColor: '#777', lineWidth: 0.9,
      brackets: cLowBrackets,
      legend: { x: 143.3, gap: 9.7, entries: [{ name: 'Monocytes', y: 41.7 }] },
      texts: [
        { t: 'PBMC Cellular Composition', x: 544.7, y: 20 },
        { t: 'Percentage', x: 465.7, y: 83.3, rot: -90, size: 8.5 },
      ],
    }));
    // C upper part
    add(rC, timeChart({
      rect: rC, area: { l: 488, t: 35, r: 601.7, b: 78.7 }, xMin: -0.646, xMax: 3.67, hideX: true, radius: 3.7,
      names: ['Lymphocytes'], values: [cLymph], errors: [cLymphErr], yMin: 80, yMax: 100, step: 5, lineColor: '#777', lineWidth: 0.9,
      brackets: cTopBrackets,
      legend: { x: 143.3, gap: 9.7, entries: [{ name: 'Lymphocytes', y: 55 }] },
    }));

    // D
    add({ x: 0, y: 178, w: 310, h: 272 }, tsneChart({ x: 0, y: 178, w: 310, h: 272 }, { l: 28.7, t: 185, r: 301.7, b: 420 }));

    // E
    const rE = { x: 430, y: 165, w: 316, h: 285 };
    add(rE, heatChart(rE, { l: 435.3, t: 224.3, r: 718.3, b: 426 }));
    const rBar = { x: 350, y: 180, w: 72, h: 36 };
    add(rBar, colorbarChart(rBar, { l: 359.3, t: 189, r: 412.7, b: 200 }));
    const rDen = { x: 345, y: 215, w: 92, h: 218 };
    add(rDen, dendroChart(rDen, { l: 353, t: 224.3, r: 435.3, b: 426 }));

    // F
    const floor = hatch();
    histPanels.forEach((p) => {
      const rect = { x: p.left, y: 485, w: 150, h: 135 };
      add(rect, histChart(p, floor, rect, { l: p.left, t: 490, r: p.left + 110, b: 596 }));
    });

    return () => {
      charts.forEach((c) => c.destroy());
      canvases.forEach((c) => c.remove());
    };
  }, []);

  const cell = { borderLeft: '1.2px solid #333', textAlign: 'center', padding: 0, fontWeight: 'normal' } as any;
  return (
    <div ref={host} style={{ position: 'absolute', left: 0, top: 0, width: 746, height: 620, overflow: 'hidden', background: '#fff', fontFamily: SERIF, color: '#444', willChange: 'transform' }}>
      {panelLetters.map(([t, x, y]) => (
        <div key={t as string} style={{ position: 'absolute', left: x as number, top: y as number, fontSize: 15, lineHeight: '17px', color: '#222' }}>{t}</div>
      ))}
      {clusterKey.map((k) => (
        <div key={k.name}>
          <div style={{ position: 'absolute', left: k.x, top: 466, width: 10.5, height: 10.5, background: k.fill, border: `1px solid ${k.edge}` }} />
          <div style={{ position: 'absolute', left: k.x + 15, top: 467, fontSize: 8.5, lineHeight: '11px', color: '#666' }}>{k.name}</div>
        </div>
      ))}
      <div style={{ position: 'absolute', left: 482, top: 469, fontSize: 11, lineHeight: '12px', color: '#444' }}>Manual gating</div>
      <table style={{ position: 'absolute', left: 482.5, top: 484.3, width: 246, height: 103, borderCollapse: 'collapse', tableLayout: 'fixed', borderTop: '1.2px solid #333', borderBottom: '1.2px solid #333', borderRight: '1.2px solid #333', fontSize: 11, color: '#444' }}>
        <colgroup><col style={{ width: 58 }} /><col style={{ width: 63 }} /><col style={{ width: 63 }} /><col style={{ width: 62 }} /></colgroup>
        <thead>
          <tr style={{ height: 23.4, background: '#ebebe9', borderBottom: '1.2px solid #333' }}>
            {gatingHeader.map((h) => <th key={h} style={cell}>{h}</th>)}
          </tr>
        </thead>
        <tbody>
          {gatingRows.map((r) => (
            <tr key={r[0]} style={{ height: 26.5 }}>
              {r.map((v, i) => <td key={i} style={{ ...cell, color: v === '–' ? '#aaa' : '#444' }}>{v}</td>)}
            </tr>
          ))}
        </tbody>
      </table>
    </div>
  );
}
